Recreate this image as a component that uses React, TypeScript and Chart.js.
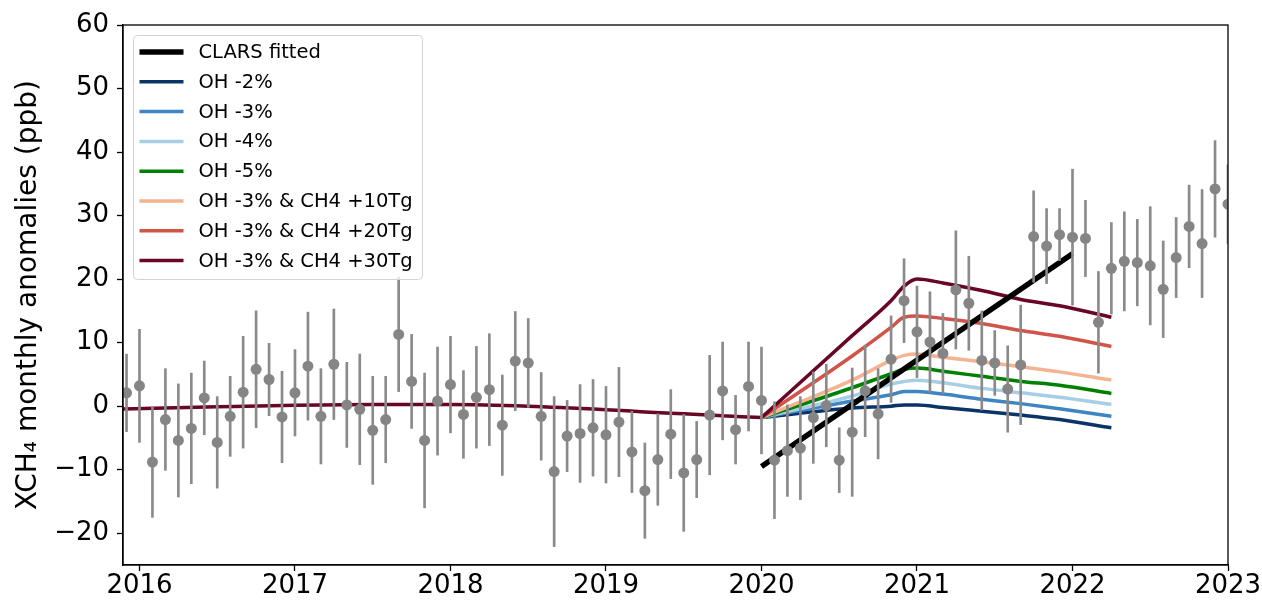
import React, { useEffect, useRef } from 'react';
import { Chart, registerables } from 'chart.js';

Chart.register(...registerables);

// ---- Observations (monthly XCH4 anomalies, ppb) ----
const obsMonths = [
  '2015-12',
  '2016-01', '2016-02', '2016-03', '2016-04', '2016-05', '2016-06', '2016-07', '2016-08', '2016-09', '2016-10', '2016-11', '2016-12',
  '2017-01', '2017-02', '2017-03', '2017-04', '2017-05', '2017-06', '2017-07', '2017-08', '2017-09', '2017-10', '2017-11', '2017-12',
  '2018-01', '2018-02', '2018-03', '2018-04', '2018-05', '2018-06', '2018-07', '2018-08', '2018-09', '2018-10', '2018-11', '2018-12',
  '2019-01', '2019-02', '2019-03', '2019-04', '2019-05', '2019-06', '2019-07', '2019-08', '2019-09', '2019-10', '2019-11', '2019-12',
  '2020-01', '2020-02', '2020-03', '2020-04', '2020-05', '2020-06', '2020-07', '2020-08', '2020-09', '2020-10', '2020-11', '2020-12',
  '2021-01', '2021-02', '2021-03', '2021-04', '2021-05', '2021-06', '2021-07', '2021-08', '2021-09', '2021-10', '2021-11', '2021-12',
  '2022-01', '2022-02', '2022-03', '2022-04', '2022-05', '2022-06', '2022-07', '2022-08', '2022-09', '2022-10', '2022-11', '2022-12',
  '2023-01',
];

const obsValues = [
  2.1,
  3.2, -8.8, -2.1, -5.4, -3.5, 1.3, -5.7, -1.6, 2.2, 5.8, 4.2, -1.7,
  2.1, 6.3, -1.6, 6.6, 0.2, -0.5, -3.8, -2.1, 11.3, 3.9, -5.4, 0.8,
  3.4, -1.3, 1.4, 2.6, -3.0, 7.1, 6.8, -1.6, -10.3, -4.7, -4.3, -3.4,
  -4.5, -2.5, -7.2, -13.3, -8.4, -4.4, -10.5, -8.4, -1.4, 2.4, -3.7, 3.1,
  0.9, -8.5, -7.0, -6.6, -1.8, 0.1, -8.5, -4.1, 2.4, -1.2, 7.4, 16.6,
  11.7, 10.1, 8.3, 18.3, 16.2, 7.2, 6.8, 2.7, 6.5, 26.7, 25.2, 27.0,
  26.6, 26.4, 13.2, 21.7, 22.8, 22.6, 22.1, 18.4, 23.4, 28.3, 25.6, 34.2,
  31.8,
];

const obsErrors = [
  6.1,
  8.9, 8.7, 8.0, 8.9, 8.7, 5.8, 7.2, 6.3, 8.8, 9.2, 5.7, 7.2,
  6.8, 8.5, 7.5, 8.7, 6.7, 8.7, 8.5, 6.8, 9.0, 7.4, 10.6, 8.5,
  7.6, 6.9, 8.0, 8.8, 7.9, 7.8, 7.0, 6.9, 11.8, 5.6, 7.7, 7.6,
  7.6, 8.6, 6.4, 7.5, 7.2, 7.0, 9.2, 6.0, 9.4, 7.7, 5.4, 7.0,
  8.4, 9.2, 7.2, 8.1, 7.2, 6.5, 5.1, 10.1, 7.2, 7.1, 6.8, 6.6,
  7.2, 7.9, 6.3, 9.3, 7.4, 7.8, 5.1, 6.8, 9.4, 7.2, 5.9, 4.1,
  10.7, 6.0, 8.0, 7.2, 7.8, 6.8, 9.3, 7.6, 6.3, 6.5, 8.5, 7.6,
  6.2,
];

// ---- Model: shared baseline before 2020 (all scenarios identical here) ----
const baseTimes = [2015.894, 2016.5, 2017.0, 2017.5, 2018.0, 2018.5, 2019.0, 2019.25, 2019.5, 2019.75, 2020.0];
const baseValues = [-0.45, -0.1, 0.15, 0.25, 0.25, 0.0, -0.55, -0.9, -1.2, -1.5, -1.8];

// ---- Model scenarios from 2020 (Jan20, Aug20, Nov20, Dec20, Jan21, Mar21, Jun21, Sep21, Dec21, Apr22) ----
const scenTimes = [2020.0, 2020.583, 2020.833, 2020.917, 2021.0, 2021.167, 2021.417, 2021.667, 2021.917, 2022.25];
const ohMinus2 = [-1.8, -0.3, 0.0, 0.2, 0.2, -0.2, -0.8, -1.4, -2.1, -3.4];
const ohMinus3 = [-1.8, 0.8, 1.8, 2.3, 2.3, 1.9, 1.1, 0.4, -0.4, -1.6];
const ohMinus4 = [-1.8, 1.6, 3.5, 3.9, 4.1, 3.7, 2.8, 2.1, 1.4, 0.3];
const ohMinus5 = [-1.8, 2.9, 5.1, 5.8, 6.0, 5.5, 4.7, 3.9, 3.3, 2.0];
const ch4Plus10 = [-1.8, 4.1, 7.2, 8.0, 8.2, 7.7, 7.0, 6.2, 5.4, 4.1];
const ch4Plus20 = [-1.8, 7.9, 12.4, 14.0, 14.2, 13.8, 13.0, 11.9, 11.0, 9.4];
const ch4Plus30 = [-1.8, 11.1, 16.6, 18.9, 20.0, 19.4, 18.2, 16.8, 15.8, 14.0];

// ---- CLARS fitted trend ----
const clarsTimes = [2020.0, 2022.0];
const clarsValues = [-9.5, 24.0];

// ---- Axis ticks ----
const xTicks = [2016, 2017, 2018, 2019, 2020, 2021, 2022, 2023];
const yTicks = [-20, -10, 0, 10, 20, 30, 40, 50, 60];

const FONT = '"DejaVu Sans", "Liberation Sans", sans-serif';

function monthToYear(m: string): number {
  const [y, mo] = m.split('-').map(Number);
  return y + (mo - 1) / 12;
}

const framePlugin = {
  id: 'axesFrame',
  afterDatasetsDraw(chart: any) {
    const { ctx, chartArea } = chart;
    ctx.save();
    ctx.strokeStyle = '#000';
    ctx.lineWidth = 1.3;
    ctx.strokeRect(chartArea.left, chartArea.top, chartArea.right - chartArea.left, chartArea.bottom - chartArea.top);
    ctx.restore();
  },
};

const insideLegendPlugin = {
  id: 'insideLegend',
  afterDatasetsDraw(chart: any) {
    const { ctx, chartArea } = chart;
    const items = chart.data.datasets.filter((d: any) => d.legendEntry);
    const x0 = chartArea.left + 10.5;
    const y0 = chartArea.top + 10.5;
    const rowH = 29.8;
    const w = 289;
    const h = 244;
    ctx.save();
    ctx.beginPath();
    if (ctx.roundRect) ctx.roundRect(x0, y0, w, h, 4);
    else ctx.rect(x0, y0, w, h);
    ctx.fillStyle = 'rgba(255,255,255,0.8)';
    ctx.fill();
    ctx.strokeStyle = '#d3d3d3';
    ctx.lineWidth = 1;
    ctx.stroke();
    ctx.font = `19.5px ${FONT}`;
    ctx.textBaseline = 'middle';
    ctx.textAlign = 'left';
    items.forEach((d: any, i: number) => {
      const y = y0 + 16.5 + i * rowH;
      ctx.beginPath();
      ctx.strokeStyle = d.borderColor;
      ctx.lineWidth = d.borderWidth;
      ctx.lineCap = 'butt';
      ctx.moveTo(x0 + 6, y);
      ctx.lineTo(x0 + 50, y);
      ctx.stroke();
      ctx.fillStyle = '#000';
      ctx.fillText(d.label, x0 + 65, y + 1);
    });
    ctx.restore();
  },
};

export default function App() {
  const canvasRef = useRef<HTMLCanvasElement | null>(null);

  useEffect(() => {
    const canvas = canvasRef.current;
    if (!canvas) return;

    const obsX = obsMonths.map(monthToYear);

    const lineDs = (label: string, color: string, vals: number[], order: number) => ({
      type: 'line' as const,
      label,
      legendEntry: true,
      data: scenTimes.map((t, i) => ({ x: t, y: vals[i] })),
      borderColor: color,
      backgroundColor: color,
      borderWidth: 3.5,
      pointRadius: 0,
      cubicInterpolationMode: 'monotone',
      fill: false,
      clip: 0,
      order,
    });

    const chart = new Chart(canvas, {
      type: 'line',
      data: {
        datasets: [
          {
            type: 'line',
            label: 'CLARS fitted',
            legendEntry: true,
            data: clarsTimes.map((t, i) => ({ x: t, y: clarsValues[i] })),
            borderColor: '#000000',
            backgroundColor: '#000000',
            borderWidth: 5.5,
            pointRadius: 0,
            fill: false,
            clip: 0,
            order: 2,
          } as any,
          lineDs('OH -2%', '#0b3466', ohMinus2, 10),
          lineDs('OH -3%', '#3d85c3', ohMinus3, 9),
          lineDs('OH -4%', '#a6cfe5', ohMinus4, 8),
          lineDs('OH -5%', '#008000', ohMinus5, 7),
          lineDs('OH -3% & CH4 +10Tg', '#f4b391', ch4Plus10, 6),
          lineDs('OH -3% & CH4 +20Tg', '#d0544a', ch4Plus20, 5),
          lineDs('OH -3% & CH4 +30Tg', '#680624', ch4Plus30, 4),
          {
            type: 'line',
            label: 'model baseline',
            data: baseTimes.map((t, i) => ({ x: t, y: baseValues[i] })),
            borderColor: '#680624',
            borderWidth: 3.5,
            pointRadius: 0,
            cubicInterpolationMode: 'monotone',
            fill: false,
            clip: 0,
            order: 3,
          } as any,
          {
            type: 'bar',
            label: 'error',
            data: obsX.map((t, i) => ({ x: t, y: [obsValues[i] - obsErrors[i], obsValues[i] + obsErrors[i]] })),
            backgroundColor: '#8a8a8a',
            borderWidth: 0,
            barThickness: 2,
            grouped: false,
            clip: 0,
            order: 1,
          } as any,
          {
            type: 'line',
            label: 'obs',
            data: obsX.map((t, i) => ({ x: t, y: obsValues[i] })),
            showLine: false,
            pointRadius: 5.5,
            pointBackgroundColor: '#858585',
            pointBorderWidth: 0,
            borderColor: '#858585',
            clip: 0,
            order: 0,
          } as any,
        ],
      },
      options: {
        animation: false,
        responsive: false,
        devicePixelRatio: 1,
        events: [],
        layout: { padding: { left: 0, right: 34, top: 25, bottom: 0 } },
        plugins: {
          legend: { display: false },
          tooltip: { enabled: false },
        },
        scales: {
          x: {
            type: 'linear',
            min: 2015.894,
            max: 2023,
            offset: false,
            afterFit: (s: any) => { s.height = 36; },
            afterBuildTicks: (s: any) => { s.ticks = xTicks.map((v) => ({ value: v })); },
            ticks: {
              includeBounds: false,
              color: '#000',
              font: { family: FONT, size: 26 },
              padding: 0,
              maxRotation: 0,
              autoSkip: false,
              callback: (v: any) => String(v),
            },
            grid: { display: true, drawOnChartArea: false, drawTicks: true, tickLength: 6, color: '#000', tickWidth: 1.3, offset: false },
            border: { display: true, color: '#000', width: 1.3 },
          },
          y: {
            type: 'linear',
            min: -25,
            max: 60,
            afterFit: (s: any) => { s.width = 123; },
            afterBuildTicks: (s: any) => { s.ticks = yTicks.map((v) => ({ value: v })); },
            ticks: {
              includeBounds: false,
              color: '#000',
              font: { family: FONT, size: 26 },
              padding: 8,
              autoSkip: false,
              callback: (v: any) => (v < 0 ? '\u2212' + String(-v) : String(v)),
            },
            grid: { display: true, drawOnChartArea: false, drawTicks: true, tickLength: 6, color: '#000', tickWidth: 1.3 },
            border: { display: true, color: '#000', width: 1.3 },
            title: {
              display: true,
              text: 'XCH\u2084 monthly anomalies (ppb)',
              color: '#000',
              font: { family: FONT, size: 28 },
              padding: { top: 12, bottom: 0 },
            },
          },
        },
      } as any,
      plugins: [framePlugin, insideLegendPlugin] as any,
    });

    return () => chart.destroy();
  }, []);

  return (
    <div style={{ position: 'fixed', left: 0, top: 0, width: 1262, height: 601, background: '#fff' }}>
      <canvas ref={canvasRef} width={1262} height={601} style={{ display: 'block', width: 1262, height: 601 }} />
    </div>
  );
}
